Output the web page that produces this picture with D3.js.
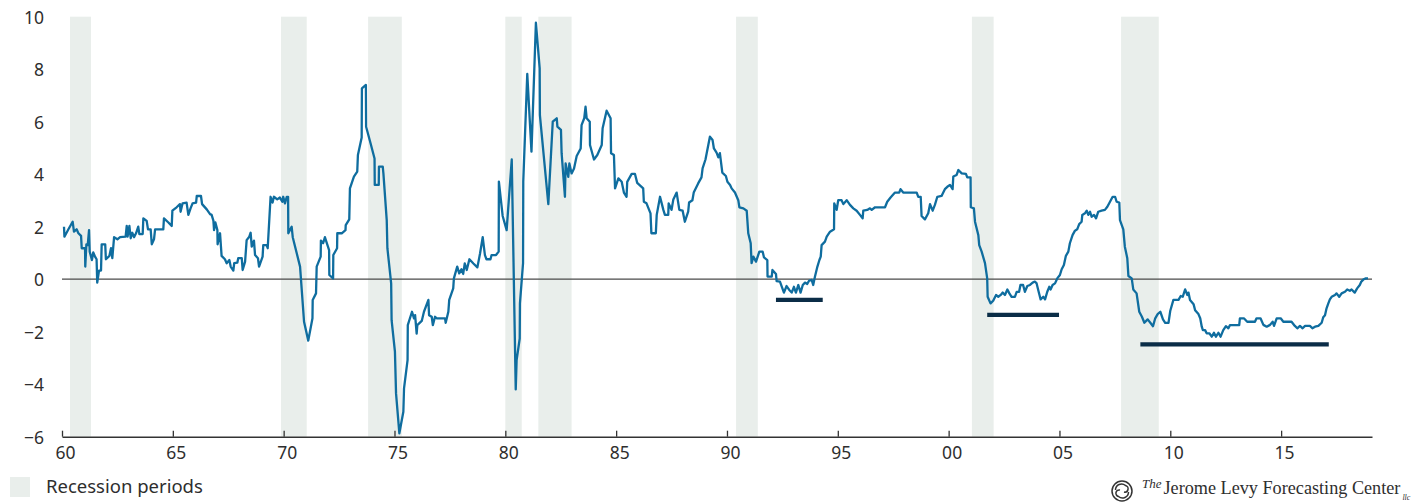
<!DOCTYPE html>
<html>
<head>
<meta charset="utf-8">
<script src="https://cdn.jsdelivr.net/npm/d3@7/dist/d3.min.js"></script>
<style>
  html, body { margin: 0; padding: 0; background: #fff; }
  #chart { width: 1416px; height: 502px; overflow: hidden; }
  .tick-label { font-family: "Noto Sans", Lato, sans-serif; font-size: 17.5px; fill: #2e2e2e; }
  .legend-label { font-family: "Noto Sans", Lato, sans-serif; font-size: 18.5px; fill: #2e2e2e; }
</style>
</head>
<body>
<div id="chart"></div>
<script>
'use strict';

// Recession periods (decimal years)
const recessionStarts = [1960.36, 1969.88, 1973.81, 1980.00, 1981.49, 1990.41, 2001.05, 2007.78];
const recessionEnds   = [1961.31, 1971.04, 1975.33, 1980.74, 1982.99, 1991.39, 2002.03, 2009.48];

// Dark horizontal floor bars: [start, end, level]
const floorBars = [
  [1992.21, 1994.32, -0.79],
  [2001.74, 2004.98, -1.36],
  [2008.65, 2017.15, -2.48],
];

const yTicks = [-6, -4, -2, 0, 2, 4, 6, 8, 10];
const xTickYears = [1960, 1965, 1970, 1975, 1980, 1985, 1990, 1995, 2000, 2005, 2010, 2015];

// Series: [decimal year, value]
const spread = [
  [1960.09,2.00],[1960.11,1.62],[1960.29,1.90],[1960.48,2.19],[1960.54,1.81],[1960.66,1.90],[1960.74,1.75],[1960.86,1.65],
  [1960.89,1.18],[1961.04,1.18],[1961.05,0.48],[1961.10,1.33],[1961.16,1.30],[1961.22,1.87],[1961.25,1.05],[1961.35,0.73],
  [1961.41,1.02],[1961.49,0.86],[1961.56,0.76],[1961.59,-0.13],[1961.67,0.33],[1961.76,0.33],[1961.79,1.33],[1961.95,1.33],
  [1961.98,0.76],[1962.14,0.89],[1962.21,1.18],[1962.27,0.80],[1962.35,1.60],[1962.50,1.52],[1962.62,1.60],[1962.87,1.62],
  [1962.92,2.03],[1962.96,1.62],[1963.04,2.03],[1963.10,1.56],[1963.17,1.77],[1963.25,1.60],[1963.34,1.75],[1963.44,2.00],
  [1963.49,1.72],[1963.64,1.72],[1963.67,2.32],[1963.82,2.22],[1963.88,1.90],[1964.00,1.90],[1964.05,1.33],[1964.15,1.52],
  [1964.20,1.90],[1964.57,1.90],[1964.60,2.32],[1964.80,2.16],[1964.95,2.03],[1964.98,2.61],[1965.17,2.74],[1965.32,2.86],
  [1965.35,2.57],[1965.44,2.89],[1965.62,2.92],[1965.70,2.45],[1965.80,2.70],[1965.89,2.89],[1966.05,2.92],[1966.08,3.17],
  [1966.27,3.17],[1966.32,2.86],[1966.53,2.66],[1966.68,2.48],[1966.75,2.45],[1966.83,2.23],[1966.86,1.87],[1966.92,2.16],
  [1967.01,1.87],[1967.02,1.33],[1967.13,1.75],[1967.20,0.89],[1967.35,0.76],[1967.43,0.61],[1967.55,0.73],[1967.61,0.48],
  [1967.73,0.33],[1967.77,0.61],[1967.91,0.63],[1967.95,0.80],[1968.11,0.80],[1968.15,0.35],[1968.26,0.67],[1968.33,1.49],
  [1968.45,1.62],[1968.51,1.77],[1968.56,1.24],[1968.66,1.47],[1968.71,0.92],[1968.84,0.80],[1968.89,0.48],[1969.05,0.86],
  [1969.08,1.30],[1969.23,1.30],[1969.28,1.18],[1969.41,3.14],[1969.50,2.92],[1969.56,3.14],[1969.71,3.04],[1969.83,3.11],
  [1969.94,2.95],[1969.98,3.14],[1970.06,2.89],[1970.14,3.14],[1970.20,3.14],
  [1970.21,1.75],[1970.36,2.00],[1970.41,1.60],[1970.74,0.48],[1970.92,-1.62],[1971.11,-2.34],[1971.30,-1.49],[1971.31,-0.79],
  [1971.46,-0.54],[1971.49,0.48],[1971.67,0.86],[1971.68,1.47],[1971.78,1.37],[1971.86,1.60],[1972.05,1.11],[1972.06,0.16],
  [1972.23,0.03],[1972.24,0.92],[1972.41,1.18],[1972.42,1.75],[1972.62,1.75],[1972.79,1.87],[1972.80,2.06],[1972.96,2.28],
  [1972.99,3.46],[1973.17,3.91],[1973.32,4.10],[1973.35,4.73],[1973.52,5.40],[1973.53,7.27],[1973.71,7.40],[1973.72,5.81],
  [1973.92,5.18],[1974.10,4.60],[1974.11,3.59],[1974.29,3.59],[1974.30,4.29],[1974.47,4.29],[1974.50,4.03],[1974.65,2.25],
  [1974.68,1.18],[1974.85,-0.16],[1974.87,-1.56],[1975.02,-2.76],[1975.07,-4.35],[1975.22,-5.87],[1975.40,-5.05],[1975.43,-4.16],
  [1975.59,-3.08],[1975.60,-1.75],[1975.79,-1.24],[1975.88,-1.49],[1975.93,-1.37],[1976.00,-2.07],[1976.03,-1.75],[1976.23,-1.59],
  [1976.33,-1.24],[1976.53,-0.79],[1976.56,-1.37],[1976.68,-1.43],[1976.73,-1.75],[1976.83,-1.43],[1976.90,-1.49],[1977.28,-1.49],
  [1977.31,-1.66],[1977.43,-1.24],[1977.47,-0.79],[1977.65,-0.35],[1977.68,0.03],[1977.83,0.48],[1977.92,0.22],[1978.02,0.38],
  [1978.10,0.20],[1978.17,0.60],[1978.26,0.35],[1978.38,0.76],[1978.56,0.60],[1978.74,0.45],[1978.86,0.98],[1978.98,1.60],
  [1979.08,0.92],[1979.15,0.76],[1979.33,0.76],[1979.38,0.92],[1979.58,0.92],[1979.70,1.05],[1979.71,3.72],[1979.88,2.41],
  [1980.06,1.87],[1980.29,4.56],[1980.47,-4.20],[1980.51,-3.08],[1980.65,-2.26],[1980.66,-0.92],[1980.80,0.61],[1980.81,3.72],
  [1980.99,7.82],[1981.18,4.86],[1981.38,9.77],[1981.55,8.03],[1981.56,6.25],
  [1981.94,2.86],[1982.14,6.00],[1982.32,6.13],[1982.35,5.81],[1982.51,5.69],[1982.54,4.80],[1982.69,3.14],[1982.72,4.41],
  [1982.84,3.90],[1982.89,4.41],[1982.99,4.03],[1983.10,4.22],[1983.22,4.69],[1983.40,4.98],[1983.44,5.87],[1983.56,6.13],
  [1983.62,6.57],[1983.67,6.13],[1983.81,6.00],[1983.82,5.11],[1984.00,4.56],[1984.15,4.73],[1984.35,5.11],[1984.39,5.75],
  [1984.57,6.42],[1984.75,6.13],[1984.77,4.80],[1984.90,4.73],[1984.95,3.46],[1985.10,3.84],[1985.25,3.71],[1985.35,3.30],
  [1985.47,3.14],[1985.50,3.71],[1985.70,4.01],[1985.85,4.01],[1985.95,3.67],[1986.22,3.46],[1986.25,2.95],[1986.37,2.89],
  [1986.55,2.51],[1986.59,1.75],[1986.79,1.75],[1986.83,2.45],[1986.98,3.14],[1987.13,2.64],[1987.20,2.45],[1987.35,2.45],
  [1987.37,2.89],[1987.50,2.64],[1987.58,3.04],[1987.73,3.30],[1987.85,2.64],[1988.00,2.61],[1988.10,2.19],[1988.25,2.57],
  [1988.29,2.92],[1988.44,3.01],[1988.50,3.30],[1988.70,3.65],[1988.85,3.88],[1988.90,4.22],[1989.03,4.56],[1989.23,5.43],
  [1989.35,5.30],[1989.41,4.98],[1989.53,4.82],[1989.61,4.64],[1989.68,4.80],[1989.79,4.06],[1989.95,3.93],[1990.02,3.71],
  [1990.14,3.59],[1990.21,3.46],[1990.36,3.30],[1990.51,3.01],[1990.56,2.74],[1990.74,2.70],[1990.89,2.61],[1990.96,1.75],
  [1991.07,1.37],[1991.11,0.61],[1991.19,0.86],[1991.31,0.67],[1991.46,1.05],[1991.61,1.05],[1991.67,0.83],[1991.82,0.73],
  [1991.83,0.10],[1992.02,0.10],[1992.05,0.35],[1992.21,0.20],[1992.24,-0.07],[1992.39,-0.09],
  [1992.57,-0.51],[1992.69,-0.26],[1992.81,-0.41],[1992.92,-0.51],[1993.02,-0.29],[1993.11,-0.51],[1993.22,-0.22],[1993.32,-0.51],
  [1993.42,-0.22],[1993.52,-0.13],[1993.62,-0.18],[1993.71,-0.05],[1993.82,-0.03],[1993.89,-0.22],[1993.97,0.10],[1994.08,0.48],
  [1994.17,0.73],[1994.23,0.86],[1994.27,1.30],[1994.42,1.43],[1994.50,1.62],[1994.65,1.81],[1994.83,1.90],[1994.84,2.89],
  [1994.95,2.64],[1995.02,3.01],[1995.17,3.01],[1995.25,2.86],[1995.40,3.01],[1995.55,2.83],[1995.70,2.70],[1995.85,2.61],
  [1996.00,2.45],[1996.12,2.32],[1996.15,2.61],[1996.33,2.64],[1996.45,2.70],[1996.53,2.64],[1996.68,2.74],[1997.13,2.74],
  [1997.23,2.95],[1997.38,3.11],[1997.58,3.30],[1997.77,3.30],[1997.83,3.43],[1997.95,3.30],[1998.56,3.30],[1998.63,3.14],
  [1998.74,3.14],[1998.78,2.41],[1998.93,2.28],[1999.08,2.51],[1999.16,2.86],[1999.28,2.61],[1999.38,2.83],[1999.49,3.14],
  [1999.68,3.17],[1999.83,3.43],[1999.94,3.52],[2000.06,3.59],[2000.18,3.43],[2000.21,3.91],[2000.36,3.97],[2000.44,4.16],
  [2000.59,4.03],[2000.78,4.01],[2000.84,3.88],[2000.99,3.88],[2001.00,2.74],[2001.14,2.70],[2001.19,2.19],[2001.34,1.68],
  [2001.38,1.30],[2001.49,1.05],[2001.64,0.61],[2001.74,0.03],[2001.76,-0.67],[2001.89,-0.92],[2002.01,-0.82],[2002.14,-0.60],
  [2002.24,-0.67],[2002.35,-0.60],[2002.44,-0.51],[2002.54,-0.60],[2002.65,-0.39],[2002.74,-0.54],[2002.84,-0.67],[2002.99,-0.67],
  [2003.07,-0.48],[2003.18,-0.48],[2003.24,-0.22],[2003.36,-0.22],[2003.44,-0.48],[2003.55,-0.26],[2003.67,-0.22],[2003.79,-0.13],
  [2003.89,-0.09],
  [2003.97,-0.16],[2004.05,-0.44],[2004.15,-0.77],[2004.27,-0.67],[2004.35,-0.77],[2004.45,-0.48],[2004.54,-0.29],[2004.60,-0.39],
  [2004.69,-0.22],[2004.80,-0.16],[2004.90,0.03],[2005.02,0.16],[2005.10,0.38],[2005.20,0.54],[2005.29,0.89],[2005.40,1.05],
  [2005.47,1.37],[2005.59,1.68],[2005.70,1.85],[2005.80,1.90],[2005.89,2.10],[2006.00,2.19],[2006.03,2.45],[2006.15,2.51],
  [2006.23,2.61],[2006.30,2.45],[2006.38,2.57],[2006.45,2.38],[2006.56,2.45],[2006.65,2.32],[2006.75,2.57],[2006.90,2.61],
  [2007.05,2.64],[2007.16,2.76],[2007.28,2.95],[2007.40,3.14],[2007.51,3.14],[2007.58,2.95],[2007.70,2.92],[2007.73,2.25],
  [2007.88,1.90],[2007.95,1.24],[2008.06,0.80],[2008.11,0.12],[2008.26,0.03],[2008.33,-0.39],[2008.48,-0.54],[2008.60,-1.24],
  [2008.72,-1.43],[2008.83,-1.66],[2008.98,-1.53],[2009.10,-1.66],[2009.22,-1.79],[2009.32,-1.49],[2009.43,-1.33],[2009.55,-1.24],
  [2009.67,-1.53],[2009.77,-1.66],[2009.92,-1.66],[2010.00,-1.20],[2010.14,-0.79],[2010.37,-0.79],[2010.47,-0.64],[2010.56,-0.67],
  [2010.67,-0.39],[2010.77,-0.60],[2010.82,-0.51],[2010.89,-0.79],[2011.05,-0.95],[2011.12,-1.18],[2011.27,-1.33],[2011.35,-1.49],
  [2011.42,-1.81],[2011.47,-1.94],[2011.57,-1.94],[2011.64,-2.06],[2011.76,-2.06],[2011.87,-2.19],[2011.97,-2.04],[2012.06,-2.19],
  [2012.17,-2.04],[2012.27,-2.19],[2012.39,-1.94],[2012.51,-1.79],[2012.62,-1.87],[2012.69,-1.75],[2013.11,-1.75],[2013.14,-1.49],
  [2013.32,-1.49],[2013.47,-1.62],[2013.82,-1.62],[2013.89,-1.49],[2014.07,-1.49],
  [2014.20,-1.74],[2014.35,-1.81],[2014.50,-1.74],[2014.62,-1.62],[2014.68,-1.78],[2014.80,-1.49],[2014.98,-1.49],[2015.10,-1.62],
  [2015.47,-1.62],[2015.62,-1.78],[2015.73,-1.87],[2015.85,-1.78],[2015.97,-1.87],[2016.08,-1.78],[2016.30,-1.78],[2016.41,-1.87],
  [2016.53,-1.81],[2016.68,-1.78],[2016.83,-1.66],[2016.90,-1.45],[2016.98,-1.37],[2017.05,-1.11],[2017.13,-0.92],[2017.20,-0.77],
  [2017.28,-0.67],[2017.43,-0.60],[2017.50,-0.54],[2017.62,-0.67],[2017.73,-0.54],[2017.88,-0.48],[2017.98,-0.39],[2018.10,-0.44],
  [2018.18,-0.39],[2018.32,-0.51],[2018.43,-0.35],[2018.55,-0.22],[2018.62,-0.09],[2018.73,0.00],[2018.82,0.03],[2018.92,0.03],
];

const COLORS = {
  line: '#0f6d9f',
  recession: '#e9eeeb',
  floor: '#0b2d47',
  zero: '#4a4a4a',
  axis: '#333',
  text: '#2e2e2e',
};

const W = 1416, H = 502;
const PLOT = { left: 62, right: 1372, top: 16.7, bottom: 436.7 };
const SERIF = '"Liberation Serif", "DejaVu Serif", serif';

const svg = d3.select('#chart').append('svg')
  .attr('width', W).attr('height', H);

const x = d3.scaleLinear().domain([1960, 2019.1]).range([PLOT.left, PLOT.right]);
const y = d3.scaleLinear().domain([-6, 10]).range([PLOT.bottom, PLOT.top]);

// Recession shading
svg.append('g')
  .selectAll('rect')
  .data(recessionStarts.map((s, i) => [s, recessionEnds[i]]))
  .join('rect')
  .attr('x', d => x(d[0]))
  .attr('width', d => x(d[1]) - x(d[0]))
  .attr('y', y(10))
  .attr('height', y(-6) - y(10))
  .attr('fill', COLORS.recession);

// Zero line
svg.append('line')
  .attr('x1', x(1960)).attr('x2', x(2019.1))
  .attr('y1', y(0)).attr('y2', y(0))
  .attr('stroke', COLORS.zero).attr('stroke-width', 1.2);

// Y tick labels
const yAxis = svg.append('g')
  .attr('transform', 'translate(44,0)')
  .call(d3.axisLeft(y).tickValues(yTicks).tickSize(0).tickPadding(0));
yAxis.select('.domain').remove();
yAxis.selectAll('text')
  .attr('class', 'tick-label')
  .attr('font-family', null).attr('font-size', null)
  .attr('dy', '0.36em');

// X axis
const xAxis = svg.append('g')
  .attr('transform', `translate(0,${y(-6)})`)
  .call(d3.axisTop(x).tickValues(xTickYears).tickSize(6).tickSizeOuter(0)
    .tickFormat(d => String(d % 100).padStart(2, '0')));
xAxis.select('.domain').attr('stroke', COLORS.axis).attr('stroke-width', 1.5);
xAxis.selectAll('.tick line').attr('stroke', COLORS.axis).attr('stroke-width', 1.3);
xAxis.selectAll('text')
  .attr('class', 'tick-label')
  .attr('font-family', null).attr('font-size', null)
  .attr('y', 22.5).attr('dy', 0).attr('dx', 3);

// Floor bars
svg.append('g')
  .selectAll('line')
  .data(floorBars)
  .join('line')
  .attr('x1', d => x(d[0])).attr('x2', d => x(d[1]))
  .attr('y1', d => y(d[2])).attr('y2', d => y(d[2]))
  .attr('stroke', COLORS.floor).attr('stroke-width', 4.2);

// Series line
const lineGen = d3.line()
  .x(d => x(d[0]))
  .y(d => y(d[1]));

svg.append('path')
  .datum(spread)
  .attr('fill', 'none')
  .attr('stroke', COLORS.line)
  .attr('stroke-width', 2.3)
  .attr('stroke-linejoin', 'round')
  .attr('d', lineGen);

// Legend
svg.append('rect')
  .attr('x', 10).attr('y', 477).attr('width', 20).attr('height', 20)
  .attr('fill', COLORS.recession);
svg.append('text')
  .attr('class', 'legend-label')
  .attr('x', 46).attr('y', 493)
  .text('Recession periods');

// Attribution
const logo = svg.append('g').attr('transform', 'translate(1122,491)')
  .attr('fill', 'none').attr('stroke', '#333').attr('stroke-width', 1.5);
logo.append('circle').attr('r', 10);
logo.append('path').attr('d', 'M-6.5,-1 A6,6 0 0 1 3.5,-5.5 A3,3 0 0 1 2,1');
logo.append('path').attr('d', 'M6.5,1 A6,6 0 0 1 -3.5,5.5 A3,3 0 0 1 -2,-1');

const credit = svg.append('text')
  .attr('x', 1142).attr('y', 488)
  .attr('font-family', SERIF)
  .attr('fill', COLORS.text);
credit.append('tspan')
  .attr('font-style', 'italic').attr('font-size', 13)
  .text('The');
credit.append('tspan')
  .attr('dx', 2).attr('dy', 6)
  .attr('font-size', 18.2)
  .text('Jerome Levy Forecasting Center');
credit.append('tspan')
  .attr('dx', 2).attr('dy', 6)
  .attr('font-style', 'italic').attr('font-size', 8)
  .text('llc');
</script>
</body>
</html>
